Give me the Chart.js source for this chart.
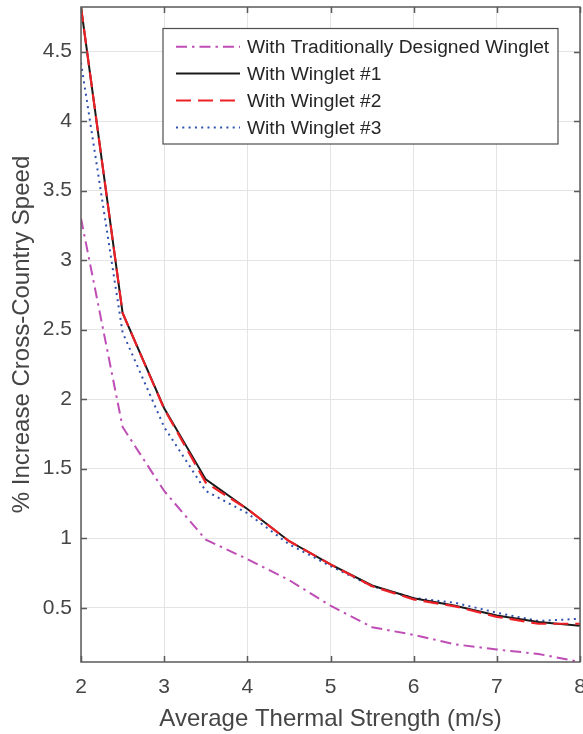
<!DOCTYPE html>
<html>
<head>
<meta charset="utf-8">
<script src="https://cdn.jsdelivr.net/npm/chart.js@4"></script>
<style>
  html, body { margin: 0; padding: 0; background: #fff; }
  canvas { display: block; }
</style>
</head>
<body>
<canvas id="chart" width="583" height="734"></canvas>
<script>
// Average thermal strength (m/s) at which each glider configuration was evaluated
const thermalStrength = [2, 2.5, 3, 3.5, 4, 4.5, 5, 5.5, 6, 6.5, 7, 7.5, 8];

// % increase in cross-country speed for each winglet
const traditionalWinglet = [3.30, 1.80, 1.34, 0.99, 0.85, 0.70, 0.515, 0.36, 0.305, 0.237, 0.20, 0.168, 0.11];
const winglet1 = [4.82, 2.62, 1.935, 1.423, 1.21, 0.98, 0.812, 0.66, 0.568, 0.515, 0.445, 0.397, 0.37];
const winglet2 = [4.82, 2.62, 1.93, 1.40, 1.21, 0.98, 0.812, 0.655, 0.56, 0.51, 0.435, 0.385, 0.385];
const winglet3 = [4.42, 2.48, 1.80, 1.34, 1.18, 0.957, 0.80, 0.655, 0.57, 0.536, 0.464, 0.405, 0.421];

const seriesLabels = [
  'With Traditionally Designed Winglet',
  'With Winglet #1',
  'With Winglet #2',
  'With Winglet #3'
];

const xTicks = [2, 3, 4, 5, 6, 7, 8];
const yTicks = [0.5, 1, 1.5, 2, 2.5, 3, 3.5, 4, 4.5];
const xRange = [2, 8];
const yRange = [0.11, 4.82];
const xTitle = 'Average Thermal Strength (m/s)';
const yTitle = '% Increase Cross-Country Speed';

const FONT = '"Liberation Sans", Arial, Helvetica, sans-serif';
const AXIS_GRAY = '#5a5a5a';
const TEXT_GRAY = '#454545';

const toPoints = vals => thermalStrength.map((x, i) => ({ x, y: vals[i] }));

const seriesValues = [traditionalWinglet, winglet1, winglet2, winglet3];
const seriesStyles = [
  { color: '#bf4db6', dash: [11, 5, 2.5, 5], width: 2, order: 3 },
  { color: '#1a1a1a', dash: [], width: 2, order: 1 },
  { color: '#ee2027', dash: [15, 7], width: 2.2, order: 0 },
  { color: '#3050b0', dash: [2, 4.3], width: 2, order: 2 }
];

const datasets = seriesValues.map((vals, i) => ({
  label: seriesLabels[i],
  data: toPoints(vals),
  borderColor: seriesStyles[i].color,
  borderDash: seriesStyles[i].dash,
  borderWidth: seriesStyles[i].width,
  borderCapStyle: 'butt',
  borderJoinStyle: 'miter',
  pointRadius: 0,
  tension: 0,
  fill: false,
  order: seriesStyles[i].order
}));

// Box around the axes with inward tick marks, plus the boxed legend in the upper right
const frameAndLegend = {
  id: 'frameAndLegend',
  afterDatasetsDraw(chart) {
    const { ctx, chartArea: a, scales: { x, y } } = chart;
    ctx.save();

    ctx.strokeStyle = AXIS_GRAY;
    ctx.lineWidth = 1.5;
    ctx.setLineDash([]);
    ctx.strokeRect(a.left, a.top, a.right - a.left, a.bottom - a.top);

    const tl = 6;
    ctx.beginPath();
    x.ticks.forEach(t => {
      const px = Math.round(x.getPixelForValue(t.value)) + 0.5;
      ctx.moveTo(px, a.bottom); ctx.lineTo(px, a.bottom - tl);
      ctx.moveTo(px, a.top); ctx.lineTo(px, a.top + tl);
    });
    y.ticks.forEach(t => {
      const py = Math.round(y.getPixelForValue(t.value)) + 0.5;
      ctx.moveTo(a.left, py); ctx.lineTo(a.left + tl, py);
      ctx.moveTo(a.right, py); ctx.lineTo(a.right - tl, py);
    });
    ctx.stroke();

    // legend
    const box = { left: 163, top: 28.5, right: 558, bottom: 144 };
    ctx.fillStyle = '#ffffff';
    ctx.fillRect(box.left, box.top, box.right - box.left, box.bottom - box.top);
    ctx.strokeStyle = '#4d4d4d';
    ctx.lineWidth = 1.2;
    ctx.strokeRect(box.left, box.top, box.right - box.left, box.bottom - box.top);

    const rowTop = 46.7, rowStep = 26.9;
    ctx.font = '19.2px ' + FONT;
    ctx.textBaseline = 'middle';
    ctx.textAlign = 'left';
    chart.data.datasets.forEach((ds, i) => {
      const ry = rowTop + i * rowStep;
      ctx.beginPath();
      ctx.strokeStyle = ds.borderColor;
      ctx.lineWidth = ds.borderWidth;
      ctx.lineCap = 'butt';
      ctx.setLineDash(ds.borderDash);
      ctx.moveTo(176, ry);
      ctx.lineTo(240, ry);
      ctx.stroke();
      ctx.setLineDash([]);
      ctx.fillStyle = '#262626';
      ctx.fillText(ds.label, 247, ry + 1);
    });

    ctx.restore();
  }
};

const plainNumber = v => String(v);

new Chart(document.getElementById('chart'), {
  type: 'line',
  data: { datasets },
  options: {
    responsive: false,
    animation: false,
    devicePixelRatio: 1,
    layout: { padding: { top: 7, right: 3, left: 0, bottom: 0 } },
    plugins: {
      legend: { display: false },
      tooltip: { enabled: false }
    },
    scales: {
      x: {
        type: 'linear',
        min: xRange[0],
        max: xRange[1],
        afterBuildTicks: s => { s.ticks = xTicks.map(v => ({ value: v })); },
        afterFit: s => { s.height = 72; s.paddingLeft = 0; s.paddingRight = 0; },
        grid: { color: '#e4e4e4', lineWidth: 1, drawTicks: false },
        border: { display: false },
        ticks: {
          padding: 13,
          color: TEXT_GRAY,
          font: { family: FONT, size: 21 },
          maxRotation: 0,
          autoSkip: false,
          callback: plainNumber
        },
        title: {
          display: true,
          text: xTitle,
          color: TEXT_GRAY,
          font: { family: FONT, size: 24 },
          padding: { top: 0, bottom: 0 }
        }
      },
      y: {
        type: 'linear',
        min: yRange[0],
        max: yRange[1],
        afterBuildTicks: s => { s.ticks = yTicks.map(v => ({ value: v })); },
        afterFit: s => { s.width = 81; s.paddingTop = 0; s.paddingBottom = 0; },
        grid: { color: '#e4e4e4', lineWidth: 1, drawTicks: false },
        border: { display: false },
        ticks: {
          padding: 9,
          color: TEXT_GRAY,
          font: { family: FONT, size: 21 },
          autoSkip: false,
          callback: plainNumber
        },
        title: {
          display: true,
          text: yTitle,
          color: TEXT_GRAY,
          font: { family: FONT, size: 24 },
          padding: { top: 8, bottom: 0 }
        }
      }
    }
  },
  plugins: [frameAndLegend]
});
</script>
</body>
</html>
